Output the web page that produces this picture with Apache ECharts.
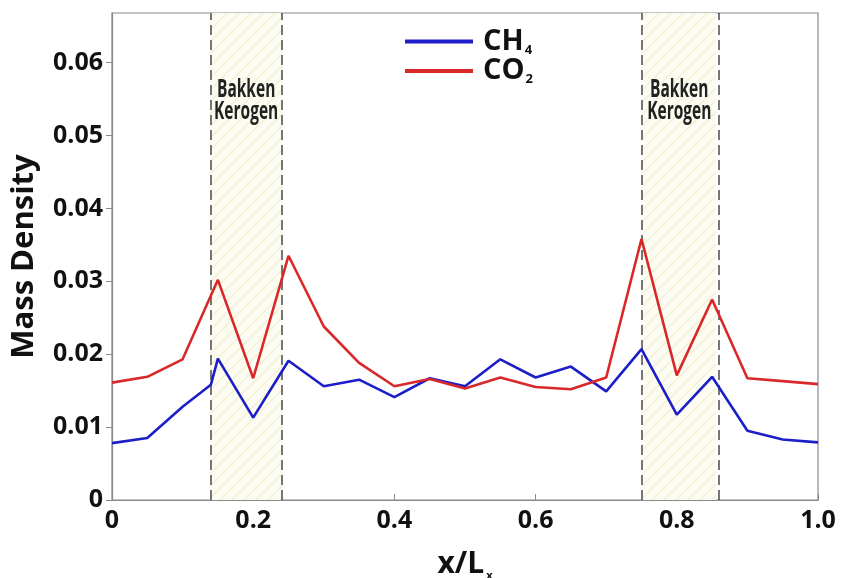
<!DOCTYPE html>
<html>
<head>
<meta charset="utf-8">
<script src="https://cdn.jsdelivr.net/npm/echarts@6/dist/echarts.min.js"></script>
<style>html,body{margin:0;padding:0;background:#fff;}#c{width:841px;height:578px;}</style>
</head>
<body>
<div id="c"></div>
<script>
const xPos = [0,0.05,0.1,0.15,0.2,0.25,0.3,0.35,0.4,0.45,0.5,0.55,0.6,0.65,0.7,0.75,0.8,0.85,0.9,0.95,1.0];
const co2Values = [0.0161,0.0169,0.0193,0.0302,0.0167,0.0335,0.0238,0.0188,0.0156,0.0166,0.0153,0.0168,0.0155,0.0152,0.0168,0.0358,0.0171,0.0275,0.0167,0.0163,0.0159];
const ch4X = [0,0.05,0.1,0.14,0.15,0.2,0.25,0.3,0.35,0.4,0.45,0.5,0.55,0.6,0.65,0.7,0.75,0.8,0.85,0.9,0.95,1.0];
const ch4Values = [0.0078,0.0085,0.0128,0.0158,0.0194,0.0113,0.0191,0.0156,0.0165,0.0141,0.0167,0.0156,0.0193,0.0168,0.0183,0.0149,0.0207,0.0117,0.0169,0.0095,0.0083,0.0079];
const kerogenBands = [[0.1385,0.2415],[0.7515,0.8555]];
const bandLabel = 'Bakken\nKerogen';
const bandLabelY = 0.0548;

// hatch pattern
const pc = document.createElement('canvas');
pc.width = 12; pc.height = 12;
const g = pc.getContext('2d');
g.fillStyle = '#fcfcf2';
g.fillRect(0,0,12,12);
g.strokeStyle = '#f1f0d6';
g.lineWidth = 1.5;
g.beginPath();
g.moveTo(-1,13); g.lineTo(13,-1);
g.moveTo(-7,7); g.lineTo(7,-7);
g.moveTo(5,19); g.lineTo(19,5);
g.stroke();

const chart = echarts.init(document.getElementById('c'));
const fontMain = '"Open Sans", "Noto Sans", sans-serif';

const markLineData = [];
kerogenBands.forEach(b => { markLineData.push({xAxis: b[0]}); markLineData.push({xAxis: b[1]}); });

chart.setOption({
  animation: false,
  backgroundColor: '#fff',
  grid: {left: 112, right: 23, top: 13, bottom: 78, show: true, borderColor: '#8a8a8a', borderWidth: 1.2, containLabel: false, outerBoundsMode: 'none'},
  legend: {
    orient: 'vertical', left: 405, top: 27, padding: 0, itemWidth: 68, itemHeight: 4, itemGap: 0,
    icon: 'rect',
    data: ['CH4','CO2'],
    formatter: function(n){ return n === 'CH4' ? '{b|CH}{s|4}' : '{b|CO}{s|2}'; },
    textStyle: {
      color: '#111', padding: [0,0,0,5],
      rich: {
        b: {fontFamily: fontMain, fontWeight: 'bold', fontSize: 29, color: '#111', lineHeight: 30},
        s: {fontFamily: fontMain, fontWeight: 'bold', fontSize: 13, color: '#111', verticalAlign: 'bottom', lineHeight: 30, padding: [12,0,0,1]}
      }
    }
  },
  xAxis: {
    type: 'value', min: 0, max: 1, interval: 0.2,
    name: '{a|x/L}{s|x}', nameLocation: 'middle', nameGap: 47,
    nameTextStyle: {
      rich: {
        a: {fontFamily: fontMain, fontWeight: 'bold', fontSize: 30, color: '#111', lineHeight: 34},
        s: {fontFamily: fontMain, fontWeight: 'bold', fontSize: 11, color: '#111', verticalAlign: 'bottom', lineHeight: 34, padding: [14,0,0,2]}
      }
    },
    axisLine: {show: true, onZero: false, lineStyle: {color: '#8a8a8a', width: 1.2}},
    axisTick: {show: true, inside: true, length: 6, lineStyle: {color: '#8a8a8a'}},
    splitLine: {show: false},
    axisLabel: {
      fontFamily: fontMain, fontWeight: 'bold', fontSize: 25, color: '#111', margin: 8,
      formatter: function(v){ return v === 0 ? '0' : (Math.abs(v-1) < 1e-9 ? '1.0' : String(+v.toFixed(1))); }
    }
  },
  yAxis: {
    type: 'value', min: 0, max: 0.0668, interval: 0.01,
    name: 'Mass Density', nameLocation: 'middle', nameGap: 72, nameRotate: 90,
    nameTextStyle: {fontFamily: fontMain, fontWeight: 'bold', fontSize: 31, color: '#111'},
    axisLine: {show: true, lineStyle: {color: '#8a8a8a', width: 1.2}},
    axisTick: {show: true, inside: false, length: 6, lineStyle: {color: '#8a8a8a'}},
    splitLine: {show: false},
    axisLabel: {
      fontFamily: fontMain, fontWeight: 'bold', fontSize: 25, color: '#111', margin: 9, showMaxLabel: false,
      formatter: function(v){ return v === 0 ? '0' : v.toFixed(2); }
    }
  },
  series: [
    {
      name: 'CH4', type: 'line', symbol: 'none', z: 5,
      lineStyle: {color: '#1c1ec8', width: 2.6},
      itemStyle: {color: '#1c1ec8'},
      data: ch4X.map((x,i) => [x, ch4Values[i]]),
      markArea: {
        silent: true,
        itemStyle: {color: {image: pc, repeat: 'repeat'}},
        data: kerogenBands.map(b => [{xAxis: b[0]}, {xAxis: b[1]}])
      },
      markLine: {
        silent: true, symbol: 'none', label: {show: false},
        lineStyle: {color: '#4a4a4a', type: [10,5], width: 1.5},
        data: markLineData
      }
    },
    {
      name: 'CO2', type: 'line', symbol: 'none', z: 6,
      lineStyle: {color: '#d9282a', width: 2.6},
      itemStyle: {color: '#d9282a'},
      data: xPos.map((x,i) => [x, co2Values[i]])
    }
  ]
});

// band labels positioned through the chart's own scales, condensed horizontally
chart.setOption({
  graphic: kerogenBands.map(b => {
    const p = chart.convertToPixel({gridIndex: 0}, [(b[0] + b[1]) / 2, bandLabelY]);
    return {
      type: 'text', x: p[0], y: p[1], scaleX: 0.62, z: 20, silent: true,
      style: {
        text: bandLabel, align: 'center', verticalAlign: 'middle',
        font: 'bold 25px "Open Sans", sans-serif', lineHeight: 22, fill: '#222'
      }
    };
  })
});
</script>
</body>
</html>
